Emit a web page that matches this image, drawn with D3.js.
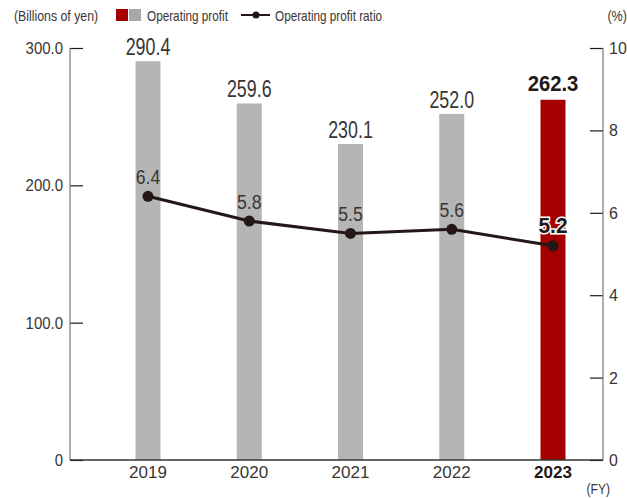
<!DOCTYPE html>
<html><head><meta charset="utf-8">
<script src="https://cdn.jsdelivr.net/npm/d3@7"></script>
<style>
body{margin:0;background:#fff;}
svg{display:block;font-family:"Liberation Sans",Arial,sans-serif;}
</style></head><body>
<svg id="c" width="627" height="498"></svg>
<script>
const years = ["2019","2020","2021","2022","2023"];
const profit = [290.4, 259.6, 230.1, 252.0, 262.3];
const ratio = [6.4, 5.8, 5.5, 5.6, 5.2];
const leftTicks = [0, 100, 200, 300];
const rightTicks = [0, 2, 4, 6, 8, 10];

const svg = d3.select("#c");
const ink = "#231815";
const txt = "#3a3535";
const gray = "#b5b5b5", red = "#a50000";
const x0 = 70, x1 = 603, yB = 460, yT = 48;

const x = d3.scalePoint().domain(years).range([148, 553]);
const yL = d3.scaleLinear().domain([0, 300]).range([yB, yT]);
const yR = d3.scaleLinear().domain([0, 10]).range([yB, yT]);
const bw = 25;
const last = years[years.length-1];

// condensed text helper
function ctext(sel, tx, ty, sx) {
  return sel.attr("transform", (d,i) => `translate(${tx(d,i)},${ty(d,i)}) scale(${typeof sx === "function" ? sx(d,i) : sx},1)`);
}

// bars
svg.selectAll("rect.bar").data(years).join("rect")
  .attr("x", d => x(d) - bw/2).attr("width", bw)
  .attr("y", (d,i) => yL(profit[i])).attr("height", (d,i) => yB - yL(profit[i]))
  .attr("fill", d => d === last ? red : gray);

// left axis
const axL = d3.axisRight(yL).tickValues(leftTicks).tickSize(13).tickFormat(() => "");
const gL = svg.append("g").attr("transform", `translate(${x0},0)`).call(axL);
gL.select(".domain").remove();
gL.selectAll(".tick line").attr("stroke", ink).attr("stroke-width", 1.2);
svg.append("line").attr("x1", x0).attr("x2", x0).attr("y1", yT).attr("y2", yB).attr("stroke", "#777").attr("stroke-width", 1.2);
ctext(svg.selectAll("text.yl").data(leftTicks).join("text"), () => 63, d => yL(d) + 6, 0.88)
  .attr("text-anchor", "end").attr("font-size", 17).attr("fill", txt)
  .text(d => d === 0 ? "0" : d3.format(".1f")(d));

// right axis
const axR = d3.axisLeft(yR).tickValues(rightTicks).tickSize(13).tickFormat(() => "");
const gR = svg.append("g").attr("transform", `translate(${x1},0)`).call(axR);
gR.select(".domain").remove();
gR.selectAll(".tick line").attr("stroke", ink).attr("stroke-width", 1.2);
svg.append("line").attr("x1", x1).attr("x2", x1).attr("y1", yT).attr("y2", yB).attr("stroke", "#777").attr("stroke-width", 1.2);
svg.selectAll("text.yr").data(rightTicks).join("text")
  .attr("x", 609).attr("y", d => yR(d) + 6)
  .attr("font-size", 16).attr("fill", txt).text(d => d);

// baseline
svg.append("line").attr("x1", x0).attr("x2", x1).attr("y1", yB).attr("y2", yB).attr("stroke", "#333").attr("stroke-width", 1.5);

// x labels
svg.selectAll("text.xl").data(years).join("text")
  .attr("x", d => x(d)).attr("y", 478).attr("text-anchor", "middle")
  .attr("font-size", 17).attr("fill", d => d === last ? ink : txt)
  .attr("font-weight", d => d === last ? "bold" : "normal").text(d => d);
ctext(svg.append("text").datum(0), () => 610, () => 494, 0.86)
  .attr("text-anchor", "end").attr("font-size", 14).attr("fill", txt).text("(FY)");

// bar labels
ctext(svg.selectAll("text.bl").data(years).join("text"),
      d => x(d), (d,i) => yL(profit[i]) - (d === last ? 9 : 6), d => d === last ? 0.9 : 0.76)
  .attr("text-anchor", "middle")
  .attr("font-size", d => d === last ? 22.5 : 23.5)
  .attr("font-weight", d => d === last ? "bold" : "normal")
  .attr("fill", d => d === last ? ink : txt)
  .text((d,i) => d3.format(".1f")(profit[i]));

// line
const line = d3.line().x((d,i) => x(years[i])).y(d => yR(d));
svg.append("path").datum(ratio).attr("d", line).attr("fill", "none")
  .attr("stroke", ink).attr("stroke-width", 3);
svg.selectAll("circle.pt").data(ratio).join("circle")
  .attr("cx", (d,i) => x(years[i])).attr("cy", d => yR(d)).attr("r", 5.5).attr("fill", ink);
ctext(svg.selectAll("text.pl").data(ratio).join("text"),
      (d,i) => x(years[i]), (d,i) => yR(d) - (years[i] === last ? 13 : 12), (d,i) => years[i] === last ? 0.95 : 0.84)
  .attr("text-anchor", "middle")
  .attr("font-size", (d,i) => years[i] === last ? 22 : 21)
  .attr("font-weight", (d,i) => years[i] === last ? "bold" : "normal")
  .attr("fill", (d,i) => years[i] === last ? ink : txt)
  .attr("stroke", (d,i) => years[i] === last ? "#fff" : "none")
  .attr("stroke-width", 3).attr("paint-order", "stroke")
  .text(d => d3.format(".1f")(d));

// legend
const lg = svg.append("g");
ctext(lg.append("text").datum(0), () => 14, () => 21, 0.88).attr("font-size", 14).attr("fill", txt).text("(Billions of yen)");
lg.append("rect").attr("x", 116).attr("y", 9).attr("width", 12).attr("height", 12).attr("fill", red);
lg.append("rect").attr("x", 129).attr("y", 9).attr("width", 12).attr("height", 12).attr("fill", "#a8a8a8");
ctext(lg.append("text").datum(0), () => 147, () => 21, 0.84).attr("font-size", 14).attr("fill", txt).text("Operating profit");
lg.append("line").attr("x1", 241).attr("x2", 270).attr("y1", 15).attr("y2", 15).attr("stroke", ink).attr("stroke-width", 2);
lg.append("circle").attr("cx", 256).attr("cy", 15).attr("r", 3.5).attr("fill", ink);
ctext(lg.append("text").datum(0), () => 275, () => 21, 0.84).attr("font-size", 14).attr("fill", txt).text("Operating profit ratio");
ctext(lg.append("text").datum(0), () => 627, () => 21, 0.9).attr("text-anchor", "end").attr("font-size", 14).attr("fill", txt).text("(%)");
</script></body></html>
